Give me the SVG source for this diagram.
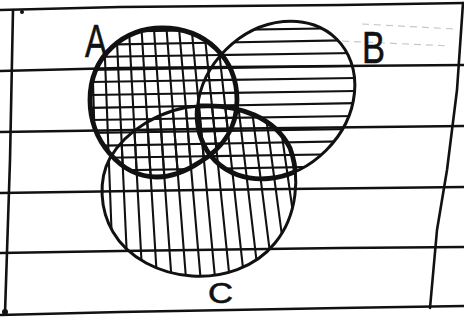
<svg xmlns="http://www.w3.org/2000/svg" xmlns:xlink="http://www.w3.org/1999/xlink" width="464" height="320" viewBox="0 0 464 320">
<style>
.paper{fill:none;stroke:#111;stroke-width:2.6;stroke-linecap:round;stroke-linejoin:round}
.hatch line{stroke:#111;stroke-width:2.1;stroke-linecap:round}
.outline{fill:none;stroke:#111;stroke-width:3}
.bold{fill:none;stroke:#111;stroke-width:4.8}
.label{font-family:"Liberation Sans",Arial,sans-serif;fill:#111;stroke:#111;stroke-width:0.6}
.mark{fill:none;stroke:#c8c8c8;stroke-width:1.2;stroke-dasharray:7 5}
</style>
<defs>
<path id="pA" d="M 90,100 C 90,55 125,28 162,28 C 205,28 237,58 237,100 C 237,130 220,150 200,162 C 185,172 170,177 157,177 C 120,177 90,140 90,100 Z"/>
<ellipse id="pB" cx="276" cy="100" rx="86" ry="71" transform="rotate(-45 276 100)"/>
<path id="pC" d="M 200,106 C 240,104 275,118 290,148 C 300,175 298,215 275,243 C 255,268 222,278 192,276 C 160,274 128,258 113,232 C 100,210 98,180 110,158 C 125,132 160,108 200,106 Z"/>
<clipPath id="cA"><path d="M 90,100 C 90,55 125,28 162,28 C 205,28 237,58 237,100 C 237,130 220,150 200,162 C 185,172 170,177 157,177 C 120,177 90,140 90,100 Z"/></clipPath>
<clipPath id="cB"><ellipse cx="276" cy="100" rx="86" ry="71" transform="rotate(-45 276 100)"/></clipPath>
<clipPath id="cC"><path d="M 200,106 C 240,104 275,118 290,148 C 300,175 298,215 275,243 C 255,268 222,278 192,276 C 160,274 128,258 113,232 C 100,210 98,180 110,158 C 125,132 160,108 200,106 Z"/></clipPath>
<g id="hH" class="hatch">
<line x1="85" y1="32" x2="360" y2="28"/>
<line x1="85" y1="45" x2="360" y2="40"/>
<line x1="85" y1="57" x2="360" y2="53"/>
<line x1="85" y1="70" x2="360" y2="66"/>
<line x1="85" y1="82" x2="360" y2="78"/>
<line x1="85" y1="95" x2="360" y2="91"/>
<line x1="85" y1="108" x2="360" y2="103"/>
<line x1="85" y1="120" x2="360" y2="116"/>
<line x1="85" y1="133" x2="360" y2="129"/>
<line x1="85" y1="146" x2="360" y2="141"/>
<line x1="85" y1="158" x2="360" y2="154"/>
<line x1="85" y1="171" x2="360" y2="166"/>
</g>
<g id="hV" class="hatch">
<line x1="91.2" y1="22" x2="98.9" y2="280"/>
<line x1="103.6" y1="22" x2="113.4" y2="280"/>
<line x1="116.1" y1="22" x2="128" y2="280"/>
<line x1="128.6" y1="22" x2="142.5" y2="280"/>
<line x1="141.1" y1="22" x2="157.1" y2="280"/>
<line x1="153.5" y1="22" x2="171.6" y2="280"/>
<line x1="166" y1="22" x2="186.1" y2="280"/>
<line x1="178.5" y1="22" x2="200.7" y2="280"/>
<line x1="191" y1="22" x2="215.2" y2="280"/>
<line x1="203.4" y1="22" x2="229.8" y2="280"/>
<line x1="215.9" y1="22" x2="244.3" y2="280"/>
<line x1="228.4" y1="22" x2="258.8" y2="280"/>
<line x1="240.9" y1="22" x2="273.4" y2="280"/>
<line x1="253.4" y1="22" x2="287.9" y2="280"/>
<line x1="265.8" y1="22" x2="302.5" y2="280"/>
</g>
</defs>
<rect width="464" height="320" fill="#fff"/>
<g id="paper">
<polyline class="paper" points="0,10 120,7 340,5 464,3"/>
<polyline class="paper" points="0,71 120,68 340,66 464,65"/>
<polyline class="paper" points="0,132 200,129 464,126"/>
<polyline class="paper" points="0,193 200,190 464,187"/>
<polyline class="paper" points="0,253 120,251 340,248 464,247"/>
<polyline class="paper" points="0,315 120,312 340,308 464,306"/>
<polyline class="paper" points="13,10 10,160 5,313"/>
<polyline class="paper" points="463,3 457,90 447,170 437,230 430,308"/>
<circle cx="22" cy="12" r="2" fill="#111"/>
<circle cx="5" cy="312" r="3" fill="#111"/>
<polyline class="mark" points="362,24 455,29"/>
<polyline class="mark" points="342,41 450,46"/>
</g>
<g id="setC">
<use xlink:href="#hV" clip-path="url(#cC)"/>
<use xlink:href="#pC" class="outline"/>
<text class="label" x="208" y="303" font-size="29" textLength="25" lengthAdjust="spacingAndGlyphs">C</text>
</g>
<g id="setB">
<use xlink:href="#hH" clip-path="url(#cB)"/>
<use xlink:href="#pB" class="outline"/>
<text class="label" x="362" y="63" font-size="45" textLength="23" lengthAdjust="spacingAndGlyphs">B</text>
</g>
<g id="setA">
<use xlink:href="#hH" clip-path="url(#cA)"/>
<use xlink:href="#hV" clip-path="url(#cA)"/>
<use xlink:href="#pA" class="bold"/>
<text class="label" x="85" y="57" font-size="46" textLength="22" lengthAdjust="spacingAndGlyphs">A</text>
</g>
<g id="setBC">
<use xlink:href="#pB" class="bold" clip-path="url(#cC)"/>
<use xlink:href="#pC" class="bold" clip-path="url(#cB)"/>
</g>
<g id="connectors"></g>
</svg>
